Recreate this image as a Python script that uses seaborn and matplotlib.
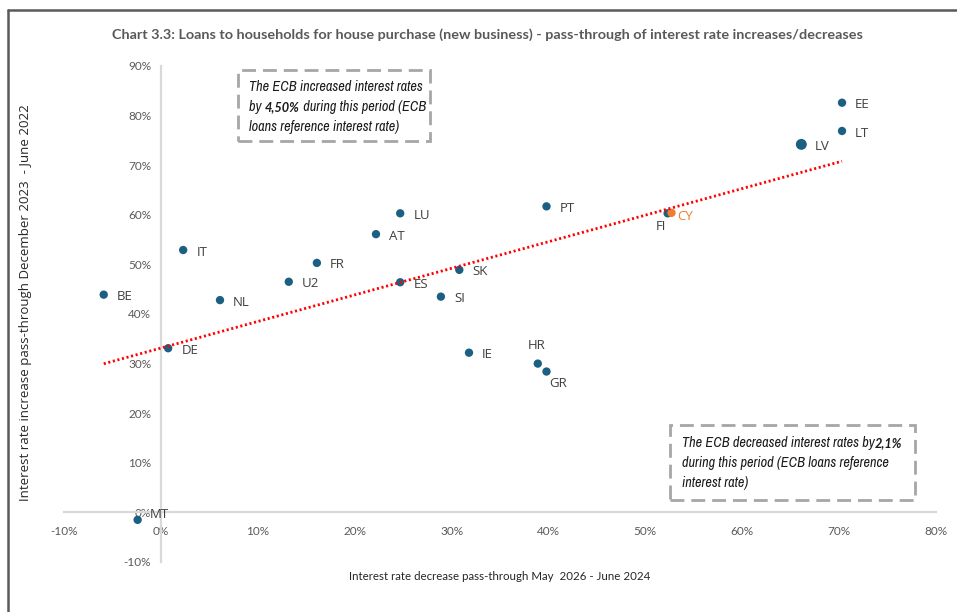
import matplotlib
matplotlib.use("Agg")
import matplotlib.pyplot as plt
from matplotlib.lines import Line2D
from matplotlib.patches import Rectangle
from matplotlib.ticker import FuncFormatter
import numpy as np
import pandas as pd
import seaborn as sns

# Pass-through of ECB rate moves to new housing loans, by country (%)
countries = ["EE", "LT", "LV", "PT", "LU", "AT", "FI", "CY", "IT", "FR", "U2",
             "ES", "SK", "SI", "BE", "NL", "DE", "IE", "HR", "GR", "MT"]
decrease_pass = [70.3, 70.3, 66.1, 39.8, 24.7, 22.2, 52.3, 52.7, 2.3, 16.1, 13.2,
                 24.7, 30.8, 28.9, -5.9, 6.1, 0.75, 31.8, 38.9, 39.8, -2.4]
increase_pass = [82.6, 76.9, 74.2, 61.7, 60.3, 56.1, 60.3, 60.4, 52.9, 50.3, 46.5,
                 46.4, 48.9, 43.5, 43.9, 42.8, 33.1, 32.2, 30.0, 28.4, -1.5]
highlight = "CY"

x_ticks = [-10, 0, 10, 20, 30, 40, 50, 60, 70, 80]
y_ticks = [-10, 0, 10, 20, 30, 40, 50, 60, 70, 80, 90]

title = ("Chart 3.3: Loans to households for house purchase (new business) - "
         "pass-through of interest rate increases/decreases")
x_label = "Interest rate decrease pass-through May  2026 - June 2024"
y_label = "Interest rate increase pass-through December 2023  - June 2022"

df = pd.DataFrame({"country": countries, "x": decrease_pass, "y": increase_pass})
df["group"] = np.where(df["country"] == highlight, "highlight", "other")

sns.set_theme(style="white")
BASE_FONT = ["Lato", "DejaVu Sans"]
NOTE_FONT = ["Archivo Narrow", "Lato", "DejaVu Sans"]
NOTE_BOLD_FONT = ["Lato", "DejaVu Sans"]
LABEL_FONT = ["Open Sans", "DejaVu Sans"]
plt.rcParams["font.family"] = BASE_FONT

BLUE = "#1B5F82"
ORANGE = "#ED7D31"
GREY_TXT = "#595959"
AXIS_GREY = "#D9D9D9"

fig = plt.figure(figsize=(9.57, 6.12), dpi=100)
ax = fig.add_axes([64 / 957, 1 - 562 / 612, 872 / 957, 496 / 612])

marker_sizes = {c: (62 if c == "LV" else 36) for c in countries}
sns.scatterplot(data=df, x="x", y="y", hue="group", size="country",
                sizes=marker_sizes,
                palette={"other": BLUE, "highlight": ORANGE},
                linewidth=0, legend=False, ax=ax, zorder=3)

# Linear trend over all countries, drawn across the observed x range
slope, intercept = np.polyfit(df["x"], df["y"], 1)
xs = np.array([df["x"].min(), df["x"].max()])
ax.plot(xs, slope * xs + intercept, color="#FF0000", lw=2.0,
        linestyle=(0, (0.75, 0.95)), zorder=4)

# Country labels (offsets in points)
default_off = (9.5, -1.5, "left", "center")
label_offsets = {
    "FI": (-5, -9.5, "center", "center"),
    "CY": (4.5, -3, "left", "center"),
    "HR": (-1, 13, "center", "center"),
    "GR": (8.5, -8.5, "center", "center"),
    "MT": (9, 4, "left", "center"),
}
for c, xv, yv in zip(countries, decrease_pass, increase_pass):
    dx, dy, ha, va = label_offsets.get(c, default_off)
    ax.annotate(c, (xv, yv), xytext=(dx, dy), textcoords="offset points",
                ha=ha, va=va, fontsize=9.5, family=LABEL_FONT,
                color=ORANGE if c == highlight else "#404040", zorder=5)

ax.set_xlim(-10, 80)
ax.set_ylim(-10, 90)
ax.set_xticks(x_ticks)
ax.set_yticks(y_ticks)
pct = FuncFormatter(lambda v, _: f"{v:.0f}%")
ax.xaxis.set_major_formatter(pct)
ax.yaxis.set_major_formatter(pct)

for side in ("top", "right"):
    ax.spines[side].set_visible(False)
ax.spines["left"].set_position(("data", 0))
ax.spines["bottom"].set_position(("data", 0))
for side in ("left", "bottom"):
    ax.spines[side].set_color(AXIS_GREY)
    ax.spines[side].set_linewidth(1.6)
    ax.spines[side].set_zorder(1)
ax.tick_params(axis="x", length=0, pad=10, labelsize=8.5, labelcolor=GREY_TXT)
ax.tick_params(axis="y", length=0, pad=7, labelsize=8.5, labelcolor=GREY_TXT)
ax.set_xlabel("")
ax.set_ylabel("")
ax.grid(False)
ax.patch.set_alpha(0)

# Title and axis titles
fig.text(487 / 957, 1 - 35 / 612, title, ha="center", va="center",
         fontsize=10.4, fontweight="bold", color=GREY_TXT)
fig.text(500 / 957, 1 - 577 / 612, x_label, ha="center", va="center",
         fontsize=8.3, color="#262626")
fig.text(26 / 957, 1 - 303 / 612, y_label, ha="center", va="center",
         rotation=90, fontsize=9.5, family=LABEL_FONT, color="#262626")

# Chart frame (top and left edges)
frame_kw = dict(color="#5A5A5A", lw=1.8, transform=fig.transFigure)
fig.add_artist(Line2D([8 / 957, 1.0], [1 - 10 / 612, 1 - 10 / 612], **frame_kw))
fig.add_artist(Line2D([8 / 957, 8 / 957], [0.0, 1 - 10 / 612], **frame_kw))

line_groups = []


def note_box(x0, y0, x1, y1, lines, text_x, first_y, step):
    fig.add_artist(Rectangle((x0 / 957, 1 - y1 / 612), (x1 - x0) / 957,
                             (y1 - y0) / 612, transform=fig.transFigure,
                             fill=False, edgecolor="#A6A6A6", lw=2.0,
                             linestyle=(0, (5, 2.5))))
    for i, pieces in enumerate(lines):
        group = []
        for txt, bold in pieces:
            group.append(fig.text(text_x / 957, 1 - (first_y + i * step) / 612,
                                  txt, fontsize=9.2 if bold else 10.3,
                                  style="italic",
                                  family=NOTE_BOLD_FONT if bold else NOTE_FONT,
                                  color="#1A1A1A",
                                  fontweight="bold" if bold else "normal",
                                  va="baseline", ha="left"))
        line_groups.append(group)


note_box(238, 70, 430, 141,
         [[("The ECB increased interest rates", False)],
          [("by ", False), ("4,50%", True), (" during this period (ECB", False)],
          [("loans reference interest rate)", False)]],
         249, 91, 20)
note_box(670, 425, 915, 500,
         [[("The ECB decreased interest rates by", False), ("2,1%", True)],
          [("during this period (ECB loans reference", False)],
          [("interest rate)", False)]],
         682, 447, 20)

# Chain mixed-weight pieces on the same baseline
fig.canvas.draw()
renderer = fig.canvas.get_renderer()
inv = fig.transFigure.inverted()
for group in line_groups:
    for a, b in zip(group[:-1], group[1:]):
        bb = a.get_window_extent(renderer)
        xa, ya = a.get_position()
        right = inv.transform((bb.x1, bb.y0))[0]
        b.set_position((right, ya))

fig.savefig("out.png", dpi=100)
